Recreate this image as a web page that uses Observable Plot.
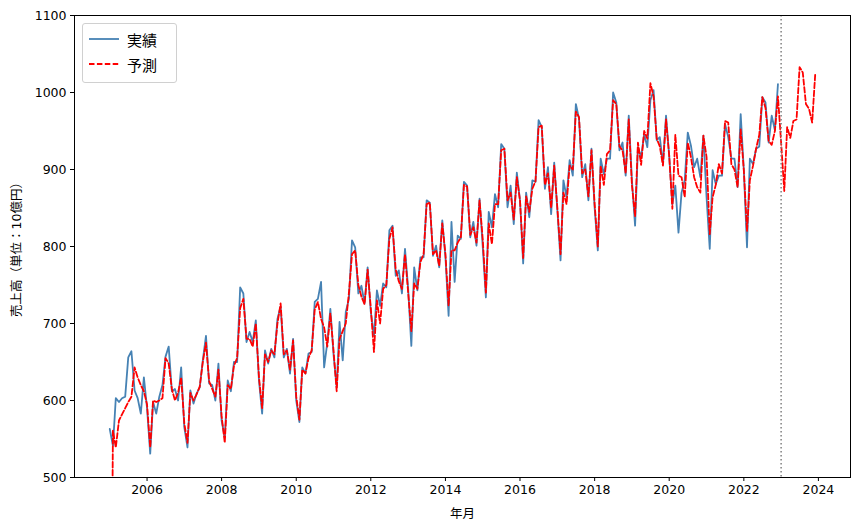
<!DOCTYPE html>
<html><head><meta charset="utf-8">
<script src="https://cdn.jsdelivr.net/npm/d3@7"></script>
<script src="https://cdn.jsdelivr.net/npm/@observablehq/plot@0.6"></script>
<style>
body{margin:0;background:#fff;font-family:"DejaVu Sans","Noto Sans CJK JP",sans-serif;}
#wrap{position:relative;width:858px;height:530px;}
#legend{position:absolute;left:82px;top:23px;width:93px;height:58px;border:1px solid #d0d0d0;border-radius:3px;background:rgba(255,255,255,0.85);font-family:"Noto Sans CJK JP","DejaVu Sans",sans-serif;font-size:15px;}
.row{position:absolute;left:6px;height:20px;display:flex;align-items:center;}
.row svg{margin-right:8px;}
</style></head>
<body><div id="wrap"><div id="chart"></div>
<div id="legend">
<div class="row" style="top:5px"><svg width="30" height="10"><line x1="0" y1="5" x2="30" y2="5" stroke="#4682b4" stroke-width="1.8"/></svg><span>実績</span></div>
<div class="row" style="top:30px"><svg width="30" height="10"><line x1="0" y1="5" x2="30" y2="5" stroke="red" stroke-width="1.8" stroke-dasharray="5.5,2.4"/></svg><span>予測</span></div>
</div></div>
<script>
const startYear = 2005;
const actual = [
563,541,603,598,603,605,656,664,613,603,583,630,
590,531,598,583,605,620,657,670,612,615,600,643,
565,539,613,596,609,617,652,684,622,620,600,648,
574,552,626,612,650,650,747,739,676,689,676,704,
626,583,665,648,667,656,706,722,656,667,635,680,
600,572,643,635,661,663,728,732,754,643,675,719,
660,617,702,652,715,732,808,799,739,749,726,773,
715,684,743,723,752,747,821,827,762,769,739,797,
745,671,773,743,786,786,860,857,788,801,773,834,
786,710,832,754,814,810,884,879,812,832,801,862,
800,734,845,825,868,851,933,927,851,879,829,896,
860,778,870,838,886,884,964,955,875,903,842,909,
847,782,886,864,912,892,985,966,890,907,860,927,
850,795,914,894,914,914,1000,987,925,935,892,970,
886,827,929,916,946,929,990,1003,938,942,907,970,
918,855,879,818,870,886,948,931,903,914,890,944,
864,797,899,881,892,892,959,942,914,914,877,972,
899,799,914,907,927,930,994,987,935,970,951,1011
];
const forecast = [
0,561,539,574,582,590,598,605,643,630,620,612,
595,539,600,598,600,603,655,648,615,600,610,630,
570,545,610,600,608,618,650,675,625,615,605,640,
580,545,620,615,645,655,720,732,680,680,670,700,
630,590,660,650,665,660,700,726,660,665,640,678,
605,575,640,635,655,665,718,728,706,695,670,713,
665,612,680,690,700,740,790,795,750,735,725,770,
720,663,730,700,745,750,810,825,770,755,745,790,
740,690,752,745,780,790,855,857,790,795,775,830,
790,723,795,795,805,812,880,878,815,825,805,860,
810,740,830,803,855,855,925,927,860,870,835,890,
860,785,865,845,875,885,955,957,880,895,850,905,
850,790,870,855,905,900,975,968,895,900,865,925,
855,800,905,880,920,925,990,985,930,925,895,965,
880,839,935,906,950,940,1012,995,940,930,905,965,
918,849,945,892,890,864,935,916,890,877,870,944,
916,816,864,880,907,895,963,961,907,900,877,952,
899,820,886,905,927,945,994,980,937,932,950,995,
935,872,955,941,963,965,1033,1026,985,979,961,1024
];
const yTicks = [500,600,700,800,900,1000,1100];
const xTickYears = [2006,2008,2010,2012,2014,2016,2018,2020,2022,2024];
const splitYear = 2023;

const toDate = i => new Date(Date.UTC(startYear + Math.floor(i/12), i%12, 1));
const actualData = actual.map((v,i)=>({date: toDate(i), value: v}));
const forecastData = forecast.map((v,i)=>({date: toDate(i), value: v}));
const first = toDate(0), last = toDate(forecast.length-1);
const span = last - first;
const xDomain = [new Date(+first - span*0.05), new Date(+last + span*0.05)];

const chart = Plot.plot({
  width: 858, height: 530,
  marginLeft: 74, marginRight: 8, marginTop: 15, marginBottom: 53,
  style: {fontFamily: '"DejaVu Sans","Noto Sans CJK JP",sans-serif', fontSize: "12.5px", color: "black", background: "white"},
  x: {type: "utc", domain: xDomain},
  y: {domain: [500, 1100]},
  marks: [
    Plot.line(actualData, {x: "date", y: "value", stroke: "#4682b4", strokeWidth: 1.8, clip: true}),
    Plot.line(forecastData, {x: "date", y: "value", stroke: "red", strokeWidth: 1.8, strokeDasharray: "5.5,2.4", clip: true}),
    Plot.ruleX([new Date(Date.UTC(splitYear,0,1))], {stroke: "gray", strokeWidth: 1.5, strokeDasharray: "1.5,2.5"}),
    Plot.frame({stroke: "black", strokeWidth: 1}),
    Plot.axisX({ticks: xTickYears.map(y => new Date(Date.UTC(y,0,1))), tickFormat: d3.utcFormat("%Y"), tickSize: 4, tickPadding: 4, label: "年月", labelAnchor: "center", labelOffset: 40, labelArrow: "none"}),
    Plot.axisY({ticks: yTicks, tickFormat: d => String(d), tickSize: 4, tickPadding: 4, label: "売上高（単位：10億円）", labelAnchor: "center", labelOffset: 62, labelArrow: "none"})
  ]
});
document.getElementById("chart").appendChild(chart);
</script>
</body></html>
